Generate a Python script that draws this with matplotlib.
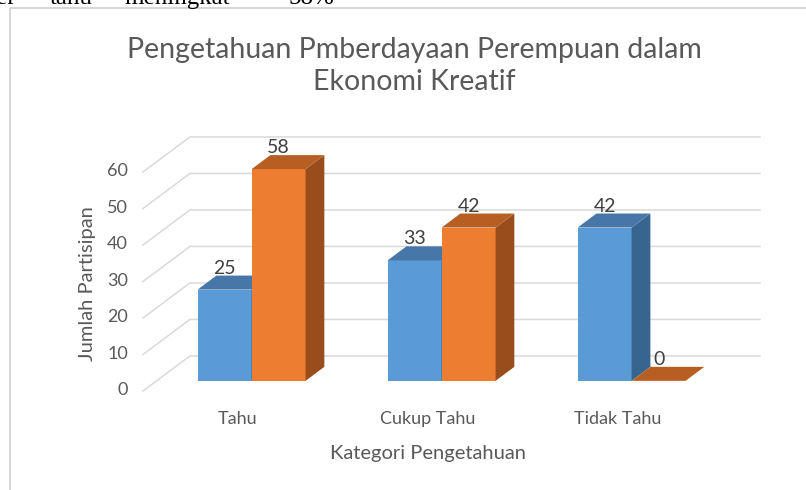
import matplotlib
matplotlib.use("Agg")
import matplotlib.pyplot as plt
from matplotlib.patches import Polygon, Rectangle

plt.rcParams['font.family'] = ['Lato', 'DejaVu Sans']

# data
categories = ['Tahu', 'Cukup Tahu', 'Tidak Tahu']
series_blue = [25, 33, 42]
series_orange = [58, 42, 0]
y_ticks = [0, 10, 20, 30, 40, 50, 60]

blue = dict(front='#5B9BD5', top='#4777A8', side='#386590')
orange = dict(front='#ED7D31', top='#B75F22', side='#9A4D1C')
txt = '#595959'
grid = '#d9d9d9'

# oblique "3d" geometry (axes units)
ddx, ddy = 0.247, 9.6       # full floor depth offset
z0, z1 = 0.29, 0.69         # bar depth slot
bw = 0.284                  # bar width


def proj(x, y, z):
    return (x + z * ddx, y + z * ddy)


def bar3d(ax, x, h, c, zo):
    if h > 0:
        front = [proj(x, 0, z0), proj(x + bw, 0, z0), proj(x + bw, h, z0), proj(x, h, z0)]
        ax.add_patch(Polygon(front, closed=True, fc=c['front'], ec='none', zorder=zo, clip_on=False))
        side = [proj(x + bw, 0, z0), proj(x + bw, 0, z1), proj(x + bw, h, z1), proj(x + bw, h, z0)]
        ax.add_patch(Polygon(side, closed=True, fc=c['side'], ec='none', zorder=zo, clip_on=False))
    top = [proj(x, h, z0), proj(x + bw, h, z0), proj(x + bw, h, z1), proj(x, h, z1)]
    ax.add_patch(Polygon(top, closed=True, fc=c['top'], ec='none', zorder=zo, clip_on=False))
    lx, ly = proj(x + bw / 2, h, z0)
    ax.text(lx, h + z1 * ddy - 0.3, str(h), ha='center', va='bottom', fontsize=14,
            color='#404040', zorder=20)


fig = plt.figure(figsize=(8.06, 4.90), dpi=100)
ax = fig.add_axes([143 / 806, 99 / 490, 570 / 806, 219 / 490])
ax.set_xlim(0, 3)
ax.set_ylim(0, 60)
ax.axis('off')

# chart area border
fig.patches.append(Rectangle((10 / 806, -0.1), 1.2, 1 - 8 / 490 + 0.1, transform=fig.transFigure,
                             fill=False, ec='#d0d0d0', lw=1.2))

# walls
for v in y_ticks:
    ax.plot([0, ddx, 3 + ddx], [v, v + ddy, v + ddy], color=grid, lw=1.1,
            clip_on=False, zorder=1, solid_joinstyle='miter')
    ax.text(-0.079, v + 0.2, str(v), ha='right', va='center', fontsize=13, color=txt)

zo = 5
for i, cat in enumerate(categories):
    x0 = i + 0.5 - bw
    bar3d(ax, x0, series_blue[i], blue, zo)
    bar3d(ax, x0 + bw, series_orange[i], orange, zo + 1)
    zo += 2
    ax.text(i + 0.5, -7.7, cat, ha='center', va='center', fontsize=13, color=txt)

fig.text(414 / 806, 1 - 66 / 490, 'Pengetahuan Pmberdayaan Perempuan dalam\nEkonomi Kreatif',
         ha='center', va='center', fontsize=20.5, color=txt, linespacing=1.3)
fig.text(428 / 806, 1 - 453 / 490, 'Kategori Pengetahuan', ha='center', va='center',
         fontsize=14.5, color=txt)
fig.text(88 / 806, 1 - 284 / 490, 'Jumlah Partisipan', ha='center', va='center',
         rotation=90, fontsize=14.5, color=txt)

# cut-off line of the document above the chart
top_words = ['er', 'tahu', 'meningkat', '58%']
top_x = [-4, 50, 124, 288]
for w, px in zip(top_words, top_x):
    fig.text(px / 806, 1 - 4 / 490, w, ha='left', va='baseline',
             fontsize=18, family='Liberation Serif', color='black')

fig.savefig('out.png', dpi=100)
